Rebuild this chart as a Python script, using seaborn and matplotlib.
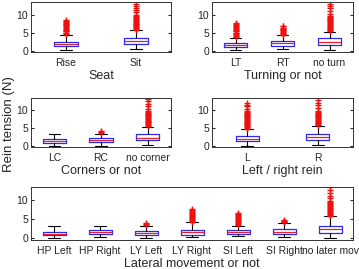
import matplotlib
matplotlib.use("Agg")
import matplotlib.pyplot as plt
import seaborn as sns

sns.set_style("white")
plt.rcParams['font.family'] = ['Liberation Sans', 'DejaVu Sans']

# Summary statistics (rein tension in N)
seat_labels = ['Rise', 'Sit']
seat_whislo = [0.2, 0.3]
seat_q1 = [1.3, 1.7]
seat_med = [1.9, 2.6]
seat_q3 = [2.5, 3.6]
seat_whishi = [4.3, 5.6]
seat_fliers = [
    [4.5, 4.8, 5.0, 5.3, 5.5, 5.8, 6.0, 6.3, 6.5, 6.8, 7.0, 7.3, 7.5, 7.8, 8.0, 8.3, 8.6],
    [5.8, 6.0, 6.3, 6.5, 6.8, 7.0, 7.3, 7.5, 7.8, 8.0, 8.3, 8.5, 8.8, 9.0, 9.3, 9.6, 10.0,
     10.7, 11.4, 11.9, 12.5, 12.9],
]

turn_labels = ['LT', 'RT', 'no turn']
turn_whislo = [0.1, 0.5, 0.1]
turn_q1 = [1.1, 1.35, 1.6]
turn_med = [1.5, 2.0, 2.4]
turn_q3 = [2.1, 2.7, 3.5]
turn_whishi = [3.6, 4.2, 5.2]
turn_fliers = [
    [3.8, 4.0, 4.3, 4.5, 4.8, 5.0, 5.3, 5.5, 5.8, 6.0, 6.3, 6.5, 6.8, 7.0, 7.3, 7.6],
    [4.4, 4.6, 4.9, 5.1, 5.4, 5.6, 5.9, 6.1, 6.4, 6.7, 6.9],
    [5.4, 5.6, 5.9, 6.1, 6.4, 6.6, 6.9, 7.1, 7.4, 7.6, 7.9, 8.1, 8.4, 8.6, 8.9, 9.1, 9.4, 9.6,
     10.3, 11.0, 11.8, 12.5, 13.0],
]

corner_labels = ['LC', 'RC', 'no corner']
corner_whislo = [0.0, 0.0, 0.2]
corner_q1 = [0.8, 1.0, 1.5]
corner_med = [1.4, 1.6, 2.2]
corner_q3 = [2.0, 2.1, 3.2]
corner_whishi = [3.3, 3.4, 5.4]
corner_fliers = [
    [],
    [3.6, 3.8, 4.0],
    [5.6, 5.8, 6.1, 6.3, 6.6, 6.8, 7.1, 7.3, 7.6, 7.8, 8.1, 8.3, 8.6, 8.8, 9.1, 9.3, 9.6, 9.9,
     10.5, 11.2, 11.9, 12.6, 13.2],
]

rein_labels = ['L', 'R']
rein_whislo = [0.0, 0.2]
rein_q1 = [1.4, 1.6]
rein_med = [2.0, 2.3]
rein_q3 = [2.7, 3.2]
rein_whishi = [4.6, 5.6]
rein_fliers = [
    [4.8, 5.0, 5.3, 5.5, 5.8, 6.0, 6.3, 6.5, 6.8, 7.0, 7.3, 7.5, 7.8, 8.0, 8.3, 8.5, 8.8,
     9.0, 9.3, 9.6, 9.9, 10.5, 11.1, 11.6, 12.1],
    [5.8, 6.0, 6.3, 6.5, 6.8, 7.0, 7.3, 7.5, 7.8, 8.0, 8.3, 8.5, 8.8, 9.0, 9.3, 9.6, 9.9,
     10.6, 11.4, 12.2, 12.9],
]

lat_labels = ['HP Left', 'HP Right', 'LY Left', 'LY Right', 'SI Left', 'SI Right', 'no later mov']
lat_whislo = [0.0, 0.3, 0.1, 0.3, 0.7, 0.5, 0.0]
lat_q1 = [0.8, 1.3, 1.0, 1.0, 1.3, 1.2, 1.5]
lat_med = [1.3, 1.8, 1.5, 1.6, 1.8, 1.8, 2.4]
lat_q3 = [1.8, 2.2, 2.0, 2.3, 2.3, 2.4, 3.3]
lat_whishi = [3.3, 3.3, 3.3, 4.2, 3.4, 4.0, 5.8]
lat_fliers = [
    [],
    [],
    [3.5, 3.7, 4.0],
    [4.4, 4.6, 4.9, 5.1, 5.4, 5.6, 5.9, 6.1, 6.4, 6.6, 6.9, 7.1, 7.4, 7.6],
    [3.6, 3.8, 4.1, 4.3, 4.6, 4.8, 5.1, 5.3, 5.6, 5.8, 6.1, 6.4, 6.6],
    [4.2, 4.4, 4.6, 4.8],
    [6.0, 6.2, 6.5, 6.7, 7.0, 7.2, 7.5, 7.7, 8.0, 8.2, 8.5, 8.7, 9.0, 9.2, 9.5, 9.8,
     10.5, 11.2, 12.0, 12.7, 13.4],
]

panels = [
    (seat_labels, seat_whislo, seat_q1, seat_med, seat_q3, seat_whishi, seat_fliers, 'Seat', 0.33),
    (turn_labels, turn_whislo, turn_q1, turn_med, turn_q3, turn_whishi, turn_fliers, 'Turning or not', 0.5),
    (corner_labels, corner_whislo, corner_q1, corner_med, corner_q3, corner_whishi, corner_fliers, 'Corners or not', 0.5),
    (rein_labels, rein_whislo, rein_q1, rein_med, rein_q3, rein_whishi, rein_fliers, 'Left / right rein', 0.33),
    (lat_labels, lat_whislo, lat_q1, lat_med, lat_q3, lat_whishi, lat_fliers, 'Lateral movement or not', 0.5),
]

W, H = 359, 269
fig = plt.figure(figsize=(W / 100, H / 100), dpi=100)

# axes rectangles in pixels: left, top, right, bottom
rects = [(31, 2, 171, 52), (212, 2, 353, 52),
         (31, 98, 171, 147), (212, 98, 353, 147),
         (31, 187, 353, 240)]

for (labels, lo, q1, med, q3, hi, fl, xlabel, width), (l, t, r, b) in zip(panels, rects):
    ax = fig.add_axes([l / W, 1 - b / H, (r - l) / W, (b - t) / H])
    stats = []
    for i, lab in enumerate(labels):
        stats.append(dict(label=lab, whislo=lo[i], q1=q1[i], med=med[i], q3=q3[i],
                          whishi=hi[i], fliers=fl[i]))
    ax.bxp(stats, widths=width, showfliers=True,
           boxprops=dict(color='#2b2bf0', linewidth=0.9),
           medianprops=dict(color='#e8202a', linewidth=0.9),
           whiskerprops=dict(color='black', linewidth=0.8),
           capprops=dict(color='black', linewidth=0.8),
           flierprops=dict(marker='+', markeredgecolor='#f01010', markersize=4.5,
                           markeredgewidth=1.0, linestyle='none'))
    ax.set_xlim(0.5, len(labels) + 0.5)
    ax.set_ylim(-0.4, 13.5)
    ax.set_yticks([0, 5, 10])
    ax.tick_params(axis='y', direction='in', length=2, labelsize=7.5, pad=2, right=True, left=True)
    ax.tick_params(axis='x', length=0, labelsize=7.5, pad=4.5)
    ax.set_xlabel(xlabel, fontsize=9, labelpad=1)
    for s in ax.spines.values():
        s.set_color('#333333')
        s.set_linewidth(0.7)

fig.text(9 / W, 1 - 124 / H, 'Rein tension (N)', rotation=90, fontsize=9.5,
         ha='center', va='center')

fig.savefig('out.png', dpi=100)
